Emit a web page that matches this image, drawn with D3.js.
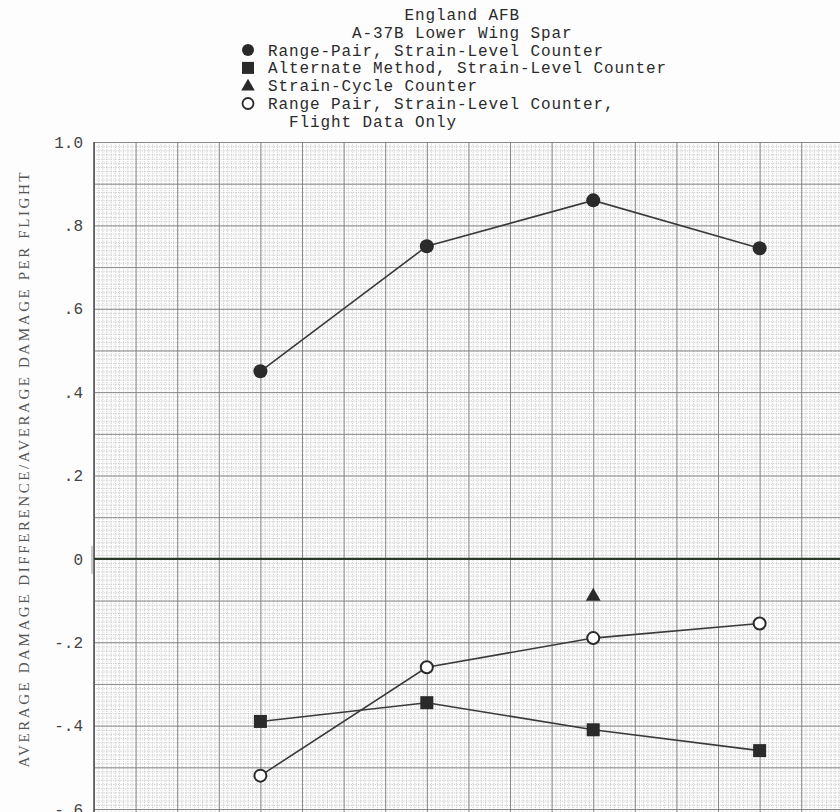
<!DOCTYPE html>
<html lang="en">
<head>
    <meta charset="UTF-8">
    <title>England AFB A-37B Lower Wing Spar</title>
    <script src="https://d3js.org/d3.v7.min.js"></script>
    <style>
        body{
            margin: 0;
            background: #fdfdfd;
        }
        .hdr{
            font-family: "Liberation Mono", "DejaVu Sans Mono", monospace;
            font-size: 16px;
            letter-spacing: 0.9px;
            fill: #2b2b2b;
        }
        .grid-minor line{
            stroke: #b9b9b9;
            stroke-width: 0.7;
            stroke-dasharray: 1.2,1.2;
        }
        .grid-major line{
            stroke: #7e7e7e;
            stroke-width: 0.9;
        }
        .domain{ display: none; }
    </style>
</head>
<body>
    <svg id='chart' width="840" height="812"></svg>

    <script>
        // data
        let sites = [1, 2, 3, 4]
        let rangePair = [0.45, 0.75, 0.86, 0.745]
        let alternate = [-0.39, -0.345, -0.41, -0.46]
        let cycleSites = [3]
        let strainCycle = [-0.09]
        let rangePairFlight = [-0.52, -0.26, -0.19, -0.155]
        let yTicks = [1.0, 0.8, 0.6, 0.4, 0.2, 0, -0.2, -0.4, -0.6]
        let yTickLabels = ["1.0", ".8", ".6", ".4", ".2", "0", "-.2", "-.4", "-.6"]

        let headerLines = ["England AFB", "A-37B Lower Wing Spar"]
        let legendItems = ["Range-Pair, Strain-Level Counter",
            "Alternate Method, Strain-Level Counter",
            "Strain-Cycle Counter",
            "Range Pair, Strain-Level Counter,"]
        let legendExtra = "Flight Data Only"

        let svg = d3.select("#chart")

        // scales
        let plotLeft = 94, plotTop = 142
        let x = d3.scaleLinear().domain([0, 4.483]).range([plotLeft, 840])
        let y = d3.scaleLinear().domain([-0.6, 1.0]).range([809, plotTop])

        // graph paper
        let minorY = d3.range(-60, 101).map(d => d / 100)
        let majorY = d3.range(-6, 11).map(d => d / 10)
        let minorX = d3.range(0, 450).map(d => d / 40)
        let majorX = d3.range(0, 45).map(d => d / 4)

        svg.append("g")
            .attr("class", "grid-minor")
            .attr("transform", `translate(${plotLeft},0)`)
            .call(d3.axisLeft(y).tickValues(minorY.concat([-0.607])).tickSize(-(840 - plotLeft)).tickFormat(""))
        svg.append("g")
            .attr("class", "grid-minor")
            .attr("transform", `translate(0,${plotTop})`)
            .call(d3.axisBottom(x).tickValues(minorX).tickSize(812 - plotTop).tickFormat(""))
        svg.append("g")
            .attr("class", "grid-major")
            .attr("transform", `translate(${plotLeft},0)`)
            .call(d3.axisLeft(y).tickValues(majorY).tickSize(-(840 - plotLeft)).tickFormat(""))
        svg.append("g")
            .attr("class", "grid-major")
            .attr("transform", `translate(0,${plotTop})`)
            .call(d3.axisBottom(x).tickValues(majorX).tickSize(812 - plotTop).tickFormat(""))

        // left border and zero line
        svg.append("line")
            .attr("x1", x(0)).attr("x2", x(0))
            .attr("y1", plotTop).attr("y2", 812)
            .attr("stroke", "#555").attr("stroke-width", 1.6)
        svg.append("line")
            .attr("x1", x(0)).attr("x2", 840)
            .attr("y1", y(0)).attr("y2", y(0))
            .attr("stroke", "#2c3a2c").attr("stroke-width", 2.4)
        svg.append("line")
            .attr("x1", x(0) - 2).attr("x2", x(0) - 2)
            .attr("y1", y(0) - 13).attr("y2", y(0) + 15)
            .attr("stroke", "#999").attr("stroke-width", 1)

        // y tick labels
        svg.append("g")
            .attr("transform", "translate(83,0)")
            .call(d3.axisLeft(y).tickValues(yTicks).tickSize(0).tickPadding(0)
                .tickFormat((d, i) => yTickLabels[i]))
            .call(g => g.selectAll("text")
                .attr("font-family", "'Liberation Mono', monospace")
                .attr("font-size", 16)
                .attr("fill", "#444"))

        // y axis title
        svg.append("text")
            .attr("transform", `translate(29,${470}) rotate(-90)`)
            .attr("text-anchor", "middle")
            .attr("font-family", "'Liberation Serif', serif")
            .attr("font-size", 15)
            .attr("fill", "#555")
            .attr("textLength", 595)
            .attr("lengthAdjust", "spacing")
            .text("AVERAGE  DAMAGE  DIFFERENCE/AVERAGE  DAMAGE  PER  FLIGHT")

        // series lines
        let line = d3.line()
            .x((d, i) => x(sites[i]))
            .y(d => y(d))
        let lineColor = "#3a3a3a"
        ;[rangePair, alternate, rangePairFlight].forEach(function(series){
            svg.append("path")
                .attr("d", line(series))
                .attr("fill", "none")
                .attr("stroke", lineColor)
                .attr("stroke-width", 1.6)
        })

        // markers
        let ink = "#2a2a2a"
        svg.selectAll(".dot").data(rangePair).join("circle")
            .attr("cx", (d, i) => x(sites[i])).attr("cy", d => y(d))
            .attr("r", 7).attr("fill", ink)
        svg.selectAll(".sq").data(alternate).join("rect")
            .attr("x", (d, i) => x(sites[i]) - 6.5).attr("y", d => y(d) - 6.5)
            .attr("width", 13).attr("height", 13).attr("fill", ink)
        svg.selectAll(".ring").data(rangePairFlight).join("circle")
            .attr("cx", (d, i) => x(sites[i])).attr("cy", d => y(d))
            .attr("r", 6).attr("fill", "#fff")
            .attr("stroke", ink).attr("stroke-width", 2)
        let tri = d3.symbol().type(d3.symbolTriangle).size(95)
        svg.selectAll(".tri").data(strainCycle).join("path")
            .attr("d", tri)
            .attr("transform", (d, i) => `translate(${x(cycleSites[i])},${y(d)})`)
            .attr("fill", ink)

        // header and legend
        let cw = 10.5, textX = 268, lineH = 17.8, base0 = 20
        svg.append("text").attr("class", "hdr")
            .attr("x", textX + 13 * cw).attr("y", base0).text(headerLines[0])
        svg.append("text").attr("class", "hdr")
            .attr("x", textX + 8 * cw).attr("y", base0 + lineH).text(headerLines[1])

        legendItems.forEach(function(label, i){
            let yy = base0 + lineH * (i + 2)
            svg.append("text").attr("class", "hdr")
                .attr("x", textX).attr("y", yy).text(label)
            let cx = 248, cy = yy - 5.5
            if (i === 0) {
                svg.append("circle").attr("cx", cx).attr("cy", cy).attr("r", 6).attr("fill", ink)
            } else if (i === 1) {
                svg.append("rect").attr("x", cx - 6).attr("y", cy - 6)
                    .attr("width", 12).attr("height", 12).attr("fill", ink)
            } else if (i === 2) {
                svg.append("path").attr("d", d3.symbol().type(d3.symbolTriangle).size(80))
                    .attr("transform", `translate(${cx},${cy + 1})`).attr("fill", ink)
            } else {
                svg.append("circle").attr("cx", cx).attr("cy", cy).attr("r", 5.5)
                    .attr("fill", "none").attr("stroke", ink).attr("stroke-width", 1.8)
            }
        })
        svg.append("text").attr("class", "hdr")
            .attr("x", textX + 2 * cw).attr("y", base0 + lineH * 6).text(legendExtra)
    </script>
</body>
</html>
